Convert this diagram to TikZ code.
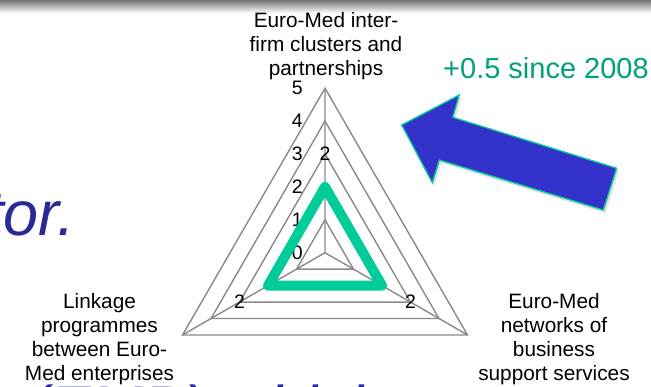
\documentclass[tikz,border=0pt]{standalone}
\usepackage{fontspec}
\setmainfont{Liberation Sans}
\usetikzlibrary{shadows}
\definecolor{gridgray}{RGB}{137,137,137}
\definecolor{mintgreen}{RGB}{0,204,153}
\definecolor{notegreen}{RGB}{0,160,122}
\definecolor{arrowblue}{RGB}{51,51,204}
\definecolor{slideblue}{RGB}{42,42,150}
\tikzset{
  ring/.style={
      draw=gridgray,
      line width=1.4pt,
      line join=miter
  },
  score/.style={
      draw=mintgreen,
      line width=10pt,
      line join=round
  },
  tickno/.style={
      inner sep=0pt,
      font=\fontsize{19.5}{23}\selectfont
  },
  catlabel/.style={
      inner sep=0pt,
      align=center,
      font=\fontsize{20.8}{24}\selectfont
  },
  bigarrow/.style={
      fill=arrowblue,
      draw=mintgreen,
      line width=1.3pt,
      line join=miter,
      drop shadow={shadow xshift=2pt,shadow yshift=-3pt,opacity=.25}
  },
  slidetext/.style={
      inner sep=0pt,
      text=slideblue,
      font=\fontsize{63}{70}\selectfont\itshape
  }
}

\begin{document}
\begin{tikzpicture}[x=1pt,y=-1pt]
    \useasboundingbox (0,0) rectangle (651,386);
    \shade[top color=black!55,bottom color=white] (0,0) rectangle (651,13);
    \begin{scope}
      \clip (0,0) rectangle (651,386);
      \node[slidetext,anchor=base east] (tor) at (75,235) {tor.};
      \node[slidetext,anchor=base west] (emp) at (27,430) {(EMP) which t};
    \end{scope}
    % radar grid
    \coordinate (ctr) at (325,252.7);
    \foreach \lvl in {1,...,5} {
      \path (ctr) ++(-90:32.9*\lvl) coordinate (t\lvl)
            (ctr) ++(30:32.9*\lvl) coordinate (r\lvl)
            (ctr) ++(150:32.9*\lvl) coordinate (l\lvl);
      \draw[ring] (t\lvl) -- (r\lvl) -- (l\lvl) -- cycle;
    }
    \draw[ring] (t5) -- (ctr) -- (r5) (ctr) -- (l5);
    \foreach \lvl in {0,...,5}
      \node[tickno,anchor=east] (v\lvl) at (303,{252.7-32.9*\lvl}) {\lvl};
    % scores
    \draw[score] (t2) -- (r2) -- (l2) -- cycle;
    \node[tickno] (stop) at (t3) {2};
    \node[tickno] (sright) at (r3) {2};
    \node[tickno] (sleft) at (l3) {2};
    % categories
    \node[catlabel,anchor=north] (clusters) at (326,12.5) {Euro-Med inter-\\firm clusters and\\partnerships};
    \node[catlabel,anchor=north] (linkage) at (99.5,293) {Linkage\\programmes\\between Euro-\\Med enterprises};
    \node[catlabel,anchor=north] (networks) at (554,293) {Euro-Med\\networks of\\business\\support services};
    % note and arrow
    \node[inner sep=0pt,anchor=base west,text=notegreen,font=\fontsize{29}{32}\selectfont] (gain) at (443,78) {+0.5 since 2008};
    \draw[bigarrow] (401.7,125) -- (459.3,95) -- (452.7,117.3) -- (616.7,168.3)
      -- (603.3,210) -- (439.3,160) -- (432.3,182.7) -- cycle;
\end{tikzpicture}
\end{document}
